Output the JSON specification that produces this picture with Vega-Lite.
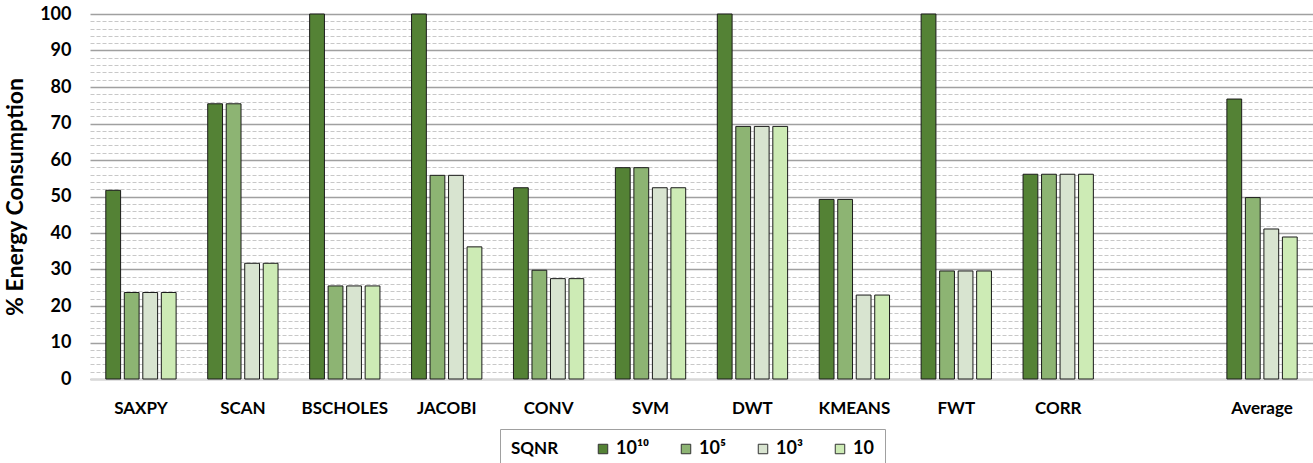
{
  "$schema": "https://vega.github.io/schema/vega-lite/v6.json",
  "width": 1223,
  "height": 365,
  "autosize": {"type": "none"},
  "padding": {"left": 90, "top": 14, "right": 0, "bottom": 84},
  "background": "white",
  "config": {"view": {"stroke": null}, "font": "Lato"},
  "data": {"values": [
    {"bench": "SAXPY", "sqnr": "10¹⁰", "value": 51.7},
    {"bench": "SAXPY", "sqnr": "10⁵", "value": 23.7},
    {"bench": "SAXPY", "sqnr": "10³", "value": 23.7},
    {"bench": "SAXPY", "sqnr": "10", "value": 23.7},
    {"bench": "SCAN", "sqnr": "10¹⁰", "value": 75.4},
    {"bench": "SCAN", "sqnr": "10⁵", "value": 75.4},
    {"bench": "SCAN", "sqnr": "10³", "value": 31.7},
    {"bench": "SCAN", "sqnr": "10", "value": 31.7},
    {"bench": "BSCHOLES", "sqnr": "10¹⁰", "value": 100},
    {"bench": "BSCHOLES", "sqnr": "10⁵", "value": 25.5},
    {"bench": "BSCHOLES", "sqnr": "10³", "value": 25.5},
    {"bench": "BSCHOLES", "sqnr": "10", "value": 25.5},
    {"bench": "JACOBI", "sqnr": "10¹⁰", "value": 100},
    {"bench": "JACOBI", "sqnr": "10⁵", "value": 55.8},
    {"bench": "JACOBI", "sqnr": "10³", "value": 55.8},
    {"bench": "JACOBI", "sqnr": "10", "value": 36.2},
    {"bench": "CONV", "sqnr": "10¹⁰", "value": 52.4},
    {"bench": "CONV", "sqnr": "10⁵", "value": 29.8},
    {"bench": "CONV", "sqnr": "10³", "value": 27.5},
    {"bench": "CONV", "sqnr": "10", "value": 27.5},
    {"bench": "SVM", "sqnr": "10¹⁰", "value": 57.9},
    {"bench": "SVM", "sqnr": "10⁵", "value": 57.9},
    {"bench": "SVM", "sqnr": "10³", "value": 52.4},
    {"bench": "SVM", "sqnr": "10", "value": 52.4},
    {"bench": "DWT", "sqnr": "10¹⁰", "value": 100},
    {"bench": "DWT", "sqnr": "10⁵", "value": 69.2},
    {"bench": "DWT", "sqnr": "10³", "value": 69.2},
    {"bench": "DWT", "sqnr": "10", "value": 69.2},
    {"bench": "KMEANS", "sqnr": "10¹⁰", "value": 49.2},
    {"bench": "KMEANS", "sqnr": "10⁵", "value": 49.2},
    {"bench": "KMEANS", "sqnr": "10³", "value": 23.0},
    {"bench": "KMEANS", "sqnr": "10", "value": 23.0},
    {"bench": "FWT", "sqnr": "10¹⁰", "value": 100},
    {"bench": "FWT", "sqnr": "10⁵", "value": 29.6},
    {"bench": "FWT", "sqnr": "10³", "value": 29.6},
    {"bench": "FWT", "sqnr": "10", "value": 29.6},
    {"bench": "CORR", "sqnr": "10¹⁰", "value": 56.1},
    {"bench": "CORR", "sqnr": "10⁵", "value": 56.1},
    {"bench": "CORR", "sqnr": "10³", "value": 56.1},
    {"bench": "CORR", "sqnr": "10", "value": 56.1},
    {"bench": "Average", "sqnr": "10¹⁰", "value": 76.7},
    {"bench": "Average", "sqnr": "10⁵", "value": 49.7},
    {"bench": "Average", "sqnr": "10³", "value": 41.1},
    {"bench": "Average", "sqnr": "10", "value": 38.9}
  ]},
  "mark": {"type": "bar", "stroke": "#1a1a1a", "strokeWidth": 1},
  "encoding": {
    "x": {
      "field": "bench", "type": "nominal",
      "scale": {"domain": ["SAXPY", "SCAN", "BSCHOLES", "JACOBI", "CONV", "SVM", "DWT", "KMEANS", "FWT", "CORR", " ", "Average"], "paddingInner": 0.31, "paddingOuter": 0.155},
      "axis": {"title": null, "labelAngle": 0, "labelFontSize": 17, "labelFontWeight": "bold", "labelColor": "#000", "labelPadding": 21, "ticks": false, "domainColor": "#d9d9d9", "domainWidth": 2}
    },
    "xOffset": {
      "field": "sqnr", "type": "nominal",
      "scale": {"domain": ["10¹⁰", "10⁵", "10³", "10"], "paddingInner": 0.2, "paddingOuter": 0}
    },
    "y": {
      "field": "value", "type": "quantitative",
      "scale": {"domain": [0, 100], "nice": false},
      "axis": {
        "title": "% Energy Consumption", "titleFontSize": 23, "titleFontWeight": "bold", "titleColor": "#000", "titlePadding": 12,
        "values": [0,2,4,6,8,10,12,14,16,18,20,22,24,26,28,30,32,34,36,38,40,42,44,46,48,50,52,54,56,58,60,62,64,66,68,70,72,74,76,78,80,82,84,86,88,90,92,94,96,98,100],
        "labelExpr": "datum.value % 10 === 0 ? datum.value : ''",
        "labelOverlap": false, "labelFontSize": 18, "labelFontWeight": "bold", "labelColor": "#000", "labelPadding": 19,
        "ticks": false, "domain": false,
        "gridColor": {"condition": {"test": "datum.value % 10 === 0", "value": "#a0a0a0"}, "value": "#c8c8c8"},
        "gridDash": {"condition": {"test": "datum.value % 10 === 0", "value": []}, "value": [4, 2]},
        "gridWidth": {"condition": {"test": "datum.value % 10 === 0", "value": 1.5}, "value": 1}
      }
    },
    "color": {
      "field": "sqnr", "type": "nominal",
      "scale": {"domain": ["10¹⁰", "10⁵", "10³", "10"], "range": ["#548235", "#8DB473", "#D8E4D0", "#CDEBB5"]},
      "legend": {
        "title": "SQNR", "orient": "none", "legendX": 410, "legendY": 415, "direction": "horizontal", "titleOrient": "left",
        "strokeColor": "#a0a0a0", "padding": 11, "symbolType": "square", "symbolSize": 90, "symbolStrokeColor": "#333", "symbolStrokeWidth": 1,
        "labelFontSize": 18, "labelFontWeight": "bold", "labelColor": "#000", "titleFontSize": 17, "titleFontWeight": "bold", "titleColor": "#000", "titlePadding": 35, "columnPadding": 28, "labelOffset": 4
      }
    }
  }
}
